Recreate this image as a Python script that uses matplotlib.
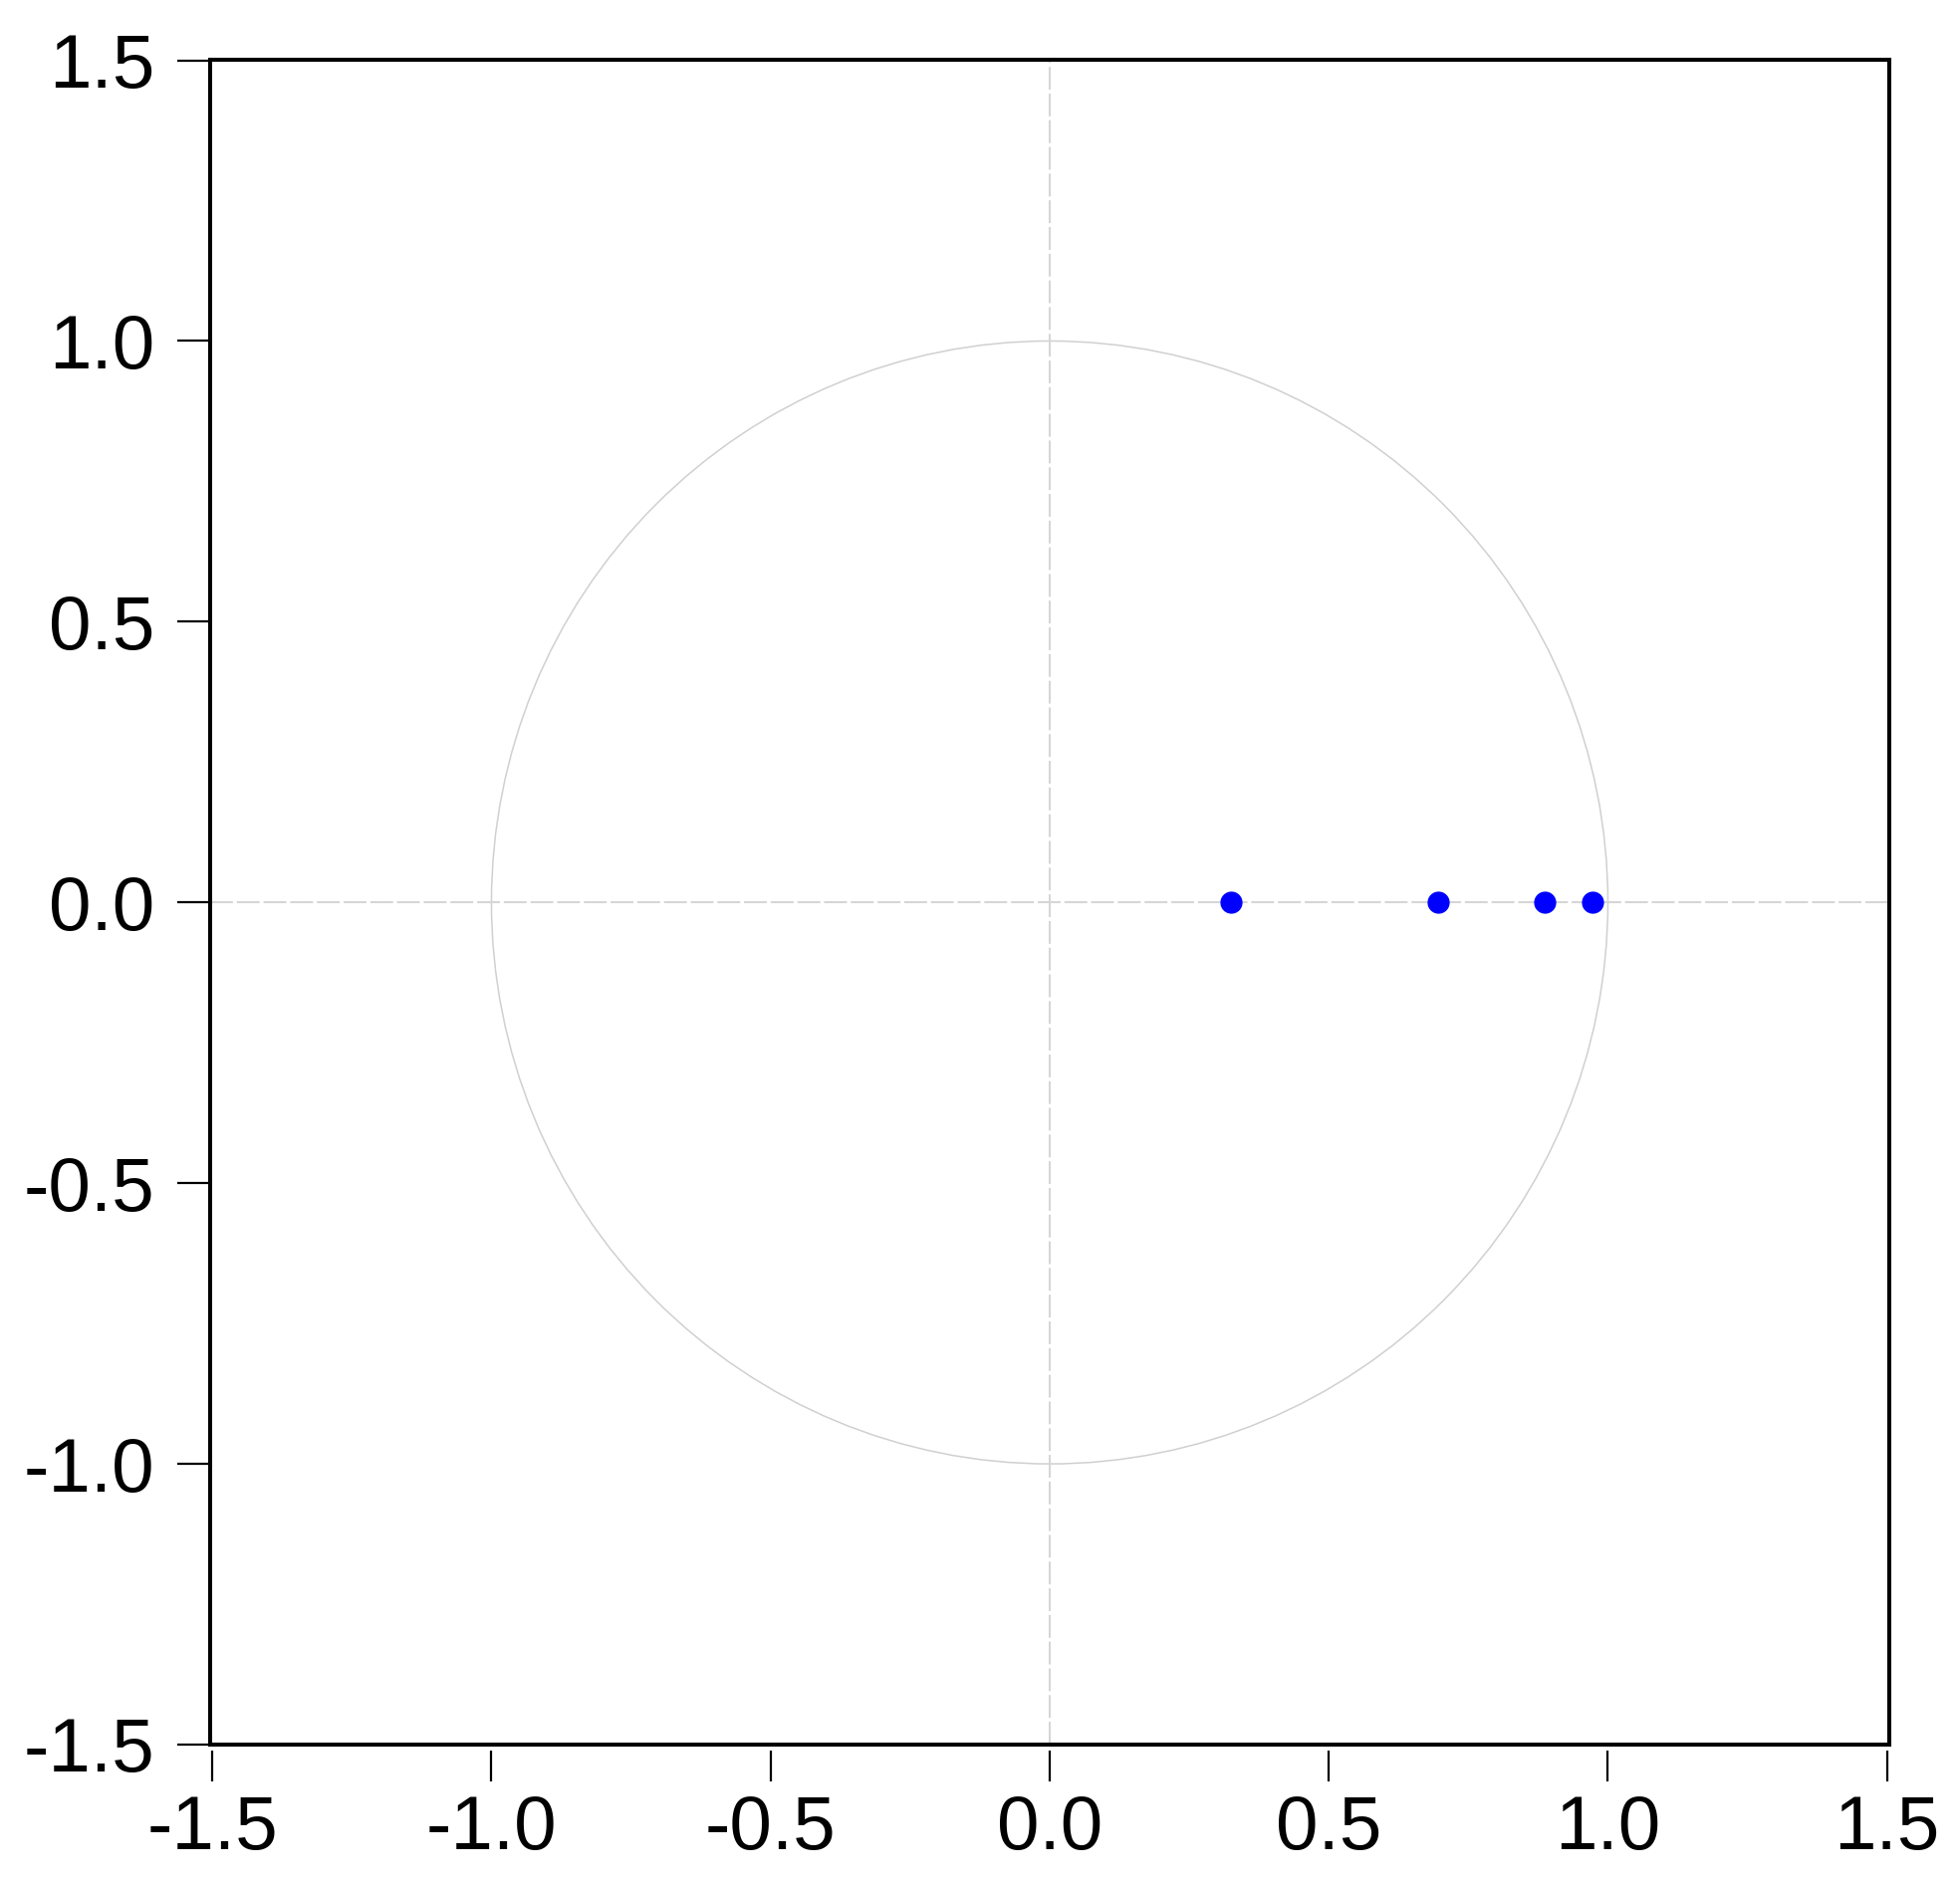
import numpy as np
import matplotlib
matplotlib.use('Agg')
import matplotlib.pyplot as plt

# roots of the AR characteristic polynomial (real part, imaginary part)
root_re = [0.325, 0.695, 0.887, 0.972]
root_im = [0.0, 0.0, 0.0, 0.0]
tick_vals = [-1.5, -1.0, -0.5, 0.0, 0.5, 1.0, 1.5]
tick_labels = ["-1.5", "-1.0", "-0.5", "0.0", "0.5", "1.0", "1.5"]

plt.rcParams['font.family'] = ['Liberation Sans', 'DejaVu Sans']
plt.rcParams['lines.scale_dashes'] = False

fig = plt.figure(figsize=(19.68, 18.92), dpi=100)
ax = fig.add_axes([0.1072, 0.074, 0.8567, 0.8943])

# unit circle and zero lines
ax.add_patch(plt.Circle((0, 0), 1.0, fill=False, edgecolor="#d0d0d0", linewidth=1.1))
ax.axhline(0, color="#d6d6d6", linewidth=1.5, dashes=(16.5, 2.8), zorder=1)
ax.axvline(0, color="#d6d6d6", linewidth=1.5, dashes=(16.5, 2.8), zorder=1)

# roots
ax.plot(root_re, root_im, linestyle="none", marker="o", markersize=15,
        color="#0000ff", zorder=3)

ax.set_xlim(-1.504, 1.504)
ax.set_ylim(-1.5, 1.501)
ax.set_xticks(tick_vals)
ax.set_xticklabels(tick_labels)
ax.set_yticks(tick_vals)
ax.set_yticklabels(tick_labels)

for s in ax.spines.values():
    s.set_linewidth(2.9)
# detached x ticks: move the bottom spine out and redraw the frame line
ax.spines['bottom'].set_position(('outward', 4))
ax.spines['bottom'].set_color('none')
ax.plot([0, 1], [0, 0], transform=ax.transAxes, color="black",
        linewidth=2.9, clip_on=False, solid_capstyle="projecting", zorder=5)

ax.tick_params(axis='x', direction='out', length=22, width=1.6, labelsize=55, pad=10)
ax.tick_params(axis='y', direction='out', length=24, width=1.6, labelsize=55, pad=16)

fig.savefig("out.png", dpi=100)
